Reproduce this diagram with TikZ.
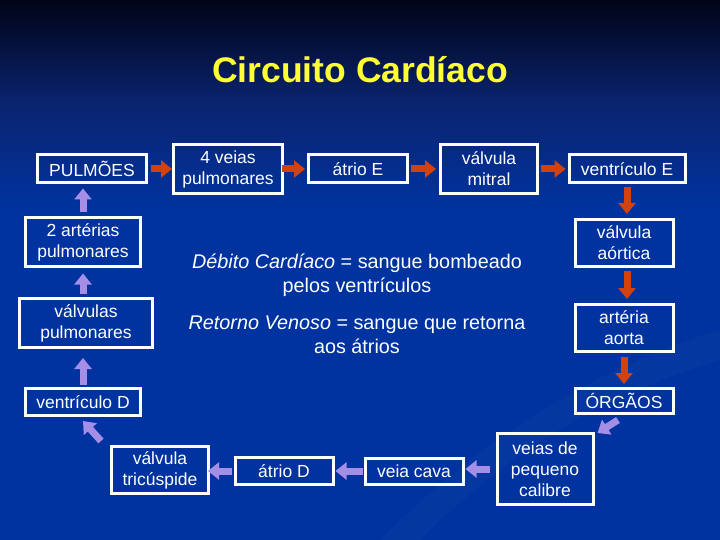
\documentclass[tikz,border=0pt]{standalone}
\usepackage{fontspec}
\setmainfont{Liberation Sans}
\usetikzlibrary{arrows.meta,calc}
\definecolor{bgtop}{HTML}{000418}
\definecolor{bgmid}{HTML}{0A2470}
\definecolor{bgbot}{HTML}{0033A0}
\definecolor{redarr}{HTML}{D0420F}
\definecolor{purarr}{HTML}{A58EE6}
\definecolor{titley}{HTML}{FFFF33}
\tikzset{
  box/.style={draw=white, line width=3pt, align=center, inner sep=0pt, text=white,
     font=\fontsize{17.5}{21}\selectfont},
  redar/.style={draw=redarr, line width=7pt, -{Triangle[width=17pt,length=11pt]}},
  purar/.style={draw=purarr, line width=7pt, -{Triangle[width=17pt,length=11pt]}},
  txt/.style={text=white, align=center, font=\fontsize{19.8}{24}\selectfont}
}
\begin{document}
\begin{tikzpicture}[x=1pt,y=-1pt]
\useasboundingbox (0,0) rectangle (720,540);
\shade[top color=bgtop, bottom color=bgbot, middle color=bgmid] (0,0) rectangle (720,210);
\fill[bgbot] (0,209) rectangle (720,540);
\fill[white, opacity=0.02] (380,540) .. controls (500,420) and (620,360) .. (720,330) -- (720,360) .. controls (620,390) and (520,440) .. (420,540) -- cycle;

\node[text=titley, font=\bfseries\fontsize{35.5}{40}\selectfont] (title) at (360,70) {Circuito Cardíaco};

\node[box, minimum width=109pt, minimum height=28pt] (pul) at (92,169) {PULMÕES};
\node[box, minimum width=109pt, minimum height=49pt] (vp4) at (228,169) {4 veias\\pulmonares};
\node[box, minimum width=99pt, minimum height=28pt] (ae) at (358,169) {átrio E};
\node[box, minimum width=97pt, minimum height=49pt] (vm) at (489,169) {válvula\\mitral};
\node[box, minimum width=116pt, minimum height=28pt] (ve) at (627,169) {ventrículo E};
\node[box, minimum width=98pt, minimum height=47pt] (va) at (624,243) {válvula\\aórtica};
\node[box, minimum width=98pt, minimum height=47pt] (aa) at (624,328) {artéria\\aorta};
\node[box, minimum width=98pt, minimum height=25pt] (org) at (624,401) {ÓRGÃOS};
\node[box, minimum width=96pt, minimum height=71pt] (vpc) at (545,469) {veias de\\pequeno\\calibre};
\node[box, minimum width=98pt, minimum height=26pt] (vc) at (414,471) {veia cava};
\node[box, minimum width=98pt, minimum height=27pt] (ad) at (284,471) {átrio D};
\node[box, minimum width=97pt, minimum height=47pt] (vt) at (160,470) {válvula\\tricúspide};
\node[box, minimum width=115pt, minimum height=27pt] (vd) at (83,402) {ventrículo D};
\node[box, minimum width=133pt, minimum height=49pt] (vpul) at (86,323) {válvulas\\pulmonares};
\node[box, minimum width=115pt, minimum height=48pt] (apul) at (83,242) {2 artérias\\pulmonares};

\node[txt] (dc) at (357,275) {\textit{Débito Cardíaco} = sangue bombeado\\pelos ventrículos};
\node[txt] (rv) at (357,335) {\textit{Retorno Venoso} = sangue que retorna\\aos átrios};

% red arrows
\draw[redar, shorten <=3pt] (pul.east) -- (vp4.west);
\draw[redar, shorten <=-2pt, shorten >=2pt] (vp4.east) -- (ae.west);
\draw[redar, shorten <=2pt, shorten >=3pt] (ae.east) -- (vm.west);
\draw[redar, shorten <=2pt, shorten >=2pt] (vm.east) -- (ve.west);
\draw[redar, shorten <=3pt, shorten >=4pt] (ve.south) -- (ve.south |- va.north);
\draw[redar, shorten <=3pt, shorten >=4pt] ([xshift=3pt]va.south) -- ([xshift=3pt]va.south |- aa.north);
\draw[redar, shorten <=4pt, shorten >=3pt] (aa.south) -- (aa.south |- org.north);

% purple arrows
\draw[purar] ([xshift=-6pt,yshift=-5pt]org.south) -- ([xshift=3pt,yshift=-1pt]vpc.north east);
\draw[purar, shorten <=6pt, shorten >=1pt] (vpc.west) -- (vpc.west -| vc.east);
\draw[purar, shorten <=1pt, shorten >=1pt] (vc.west) -- (ad.east);
\draw[purar, shorten <=2pt, shorten >=-2pt] (ad.west) -- (ad.west -| vt.east);
\draw[purar] ([xshift=-9pt,yshift=4pt]vt.north west) -- ([yshift=-4pt]vd.south);
\draw[purar, shorten <=2pt, shorten >=9pt] (vd.north) -- (vd.north |- vpul.south);
\draw[purar, shorten <=3pt, shorten >=6pt] (apul.south |- vpul.north) -- (apul.south);
\draw[purar, shorten <=4pt, shorten >=4pt] (apul.north) -- (apul.north |- pul.south);
\end{tikzpicture}
\end{document}
